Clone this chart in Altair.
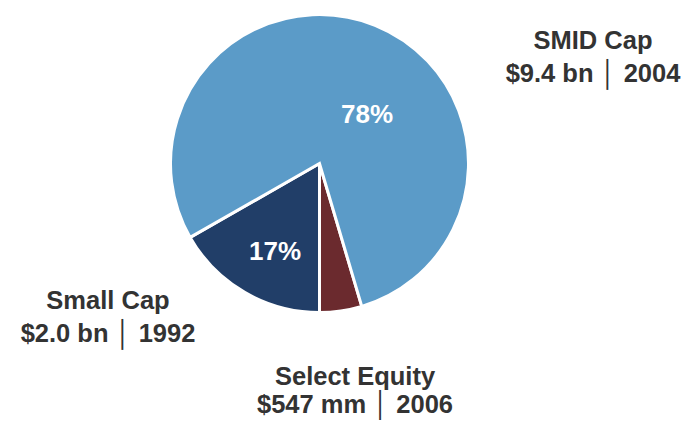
import math
import altair as alt
import pandas as pd

# Data
funds = ["Select Equity", "Small Cap", "SMID Cap"]
assets_bn = [0.547, 2.0, 9.4]
amount_text = ["$547 mm", "$2.0 bn", "$9.4 bn"]
inception = ["2006", "1992", "2004"]
pct_text = ["", "17%", "78%"]

colors = ["#6B2A2E", "#213E68", "#5B9BC8"]

total = sum(assets_bn)
start = math.pi - 2 * math.pi * assets_bn[0] / total

pie_df = pd.DataFrame({"fund": funds, "value": assets_bn, "idx": [0, 1, 2]})

# layout (pixels within plot area)
cx, cy, r = 311.5, 150.5, 149
name_pos = {"SMID Cap": (585, 36, 69), "Small Cap": (100, 296, 329),
            "Select Equity": (347, 372, 400)}
pct_pos = {"SMID Cap": (359, 110), "Small Cap": (267, 247)}

pie = alt.Chart(pie_df).mark_arc(
    radius=r, stroke="white", strokeWidth=3
).encode(
    theta=alt.Theta("value:Q", stack=True,
                    scale=alt.Scale(range=[start, start + 2 * math.pi])),
    color=alt.Color("fund:N", scale=alt.Scale(domain=funds, range=colors), legend=None),
    order=alt.Order("idx:Q"),
    x=alt.value(cx),
    y=alt.value(cy),
)

lab_rows = []
for f, a, y in zip(funds, amount_text, inception):
    px, py1, py2 = name_pos[f]
    lab_rows.append({"t": f, "px": px, "py": py1})
    lab_rows.append({"t": f"{a} │ {y}", "px": px, "py": py2})
lab_df = pd.DataFrame(lab_rows)

labels = alt.Chart(lab_df).mark_text(
    font="Liberation Sans", fontSize=25.5, fontWeight="bold", color="#333333",
    align="center", baseline="alphabetic"
).encode(
    x=alt.X("px:Q", scale=None),
    y=alt.Y("py:Q", scale=None),
    text="t:N",
)

pct_rows = []
for f, p in zip(funds, pct_text):
    if p:
        px, py = pct_pos[f]
        pct_rows.append({"t": p, "px": px, "py": py})
pct_df = pd.DataFrame(pct_rows)

pcts = alt.Chart(pct_df).mark_text(
    font="Liberation Sans", fontSize=26, fontWeight="bold", color="white",
    align="center", baseline="alphabetic"
).encode(
    x=alt.X("px:Q", scale=None),
    y=alt.Y("py:Q", scale=None),
    text="t:N",
)

chart = alt.layer(pie, labels, pcts).properties(
    width=674, height=407, padding=0
).configure_view(stroke=None)

chart.save("out.html", embed_options={"renderer": "svg", "actions": False})
